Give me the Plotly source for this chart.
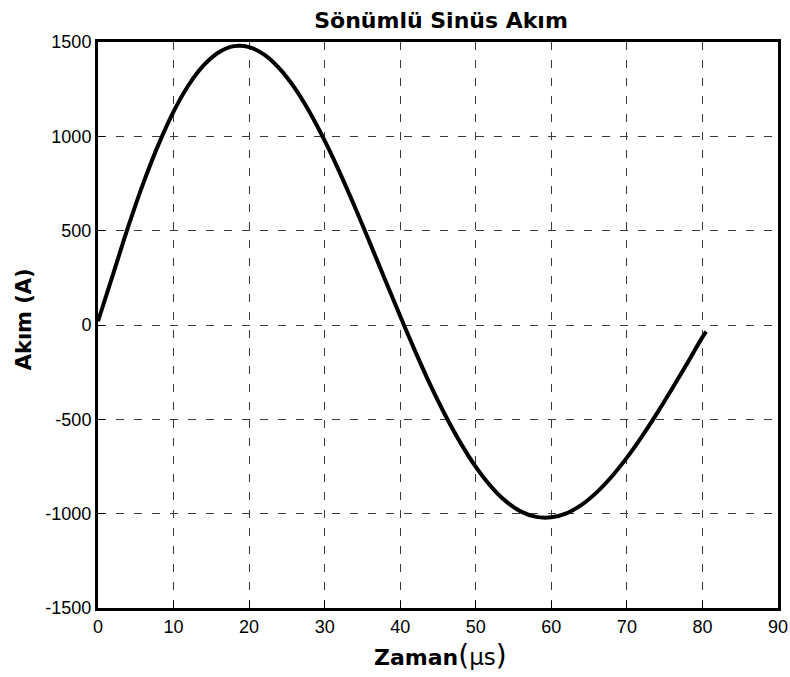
import plotly.graph_objects as go

# Values
time_us = [0, 2, 4, 6, 8, 10, 12, 14, 16, 18, 20, 22, 24, 26, 28, 30, 32, 34, 36, 38,
           40, 42, 44, 46, 48, 50, 52, 54, 56, 58, 60, 62, 64, 66, 68, 70, 72, 74, 76,
           78, 80, 80.5]
current_a = [20, 270, 521, 752, 956, 1131, 1272, 1377, 1446, 1478, 1473, 1433, 1360,
             1258, 1129, 977, 808, 625, 434, 240, 46, -141, -319, -481, -626, -752,
             -855, -935, -989, -1017, -1019, -998, -953, -887, -803, -703, -590, -467,
             -337, -202, -64, -35]

x_ticks = [0, 10, 20, 30, 40, 50, 60, 70, 80, 90]
y_ticks = [-1500, -1000, -500, 0, 500, 1000, 1500]
y_tick_text = ["-1500", "-1000", "-500", "0", "500", "1000", "1500"]

tick_font = "Liberation Sans, Arial, sans-serif"
title_font = "DejaVu Sans, Verdana, sans-serif"

fig = go.Figure()
fig.add_trace(go.Scatter(
    x=time_us, y=current_a, mode="lines",
    line=dict(color="black", width=4, shape="spline"),
    showlegend=False, hoverinfo="skip",
))

axis_common = dict(
    showline=True, linecolor="black", linewidth=3, mirror=True,
    showgrid=True, gridcolor="#3a3a3a", griddash="8px,10px", gridwidth=1,
    ticks="inside", ticklen=7, tickcolor="black", tickwidth=1,
    zeroline=False, automargin=False,
    tickfont=dict(family=tick_font, size=18, color="black"),
)

fig.update_xaxes(range=[0, 90], tickvals=x_ticks, **axis_common)
fig.update_yaxes(range=[-1500, 1500], tickvals=y_ticks, ticktext=y_tick_text,
                 **axis_common)

fig.add_annotation(
    text="<b>Akım (A)</b>", textangle=-90,
    xref="paper", yref="paper", x=(24 - 98) / 680, y=0.51,
    xanchor="center", yanchor="middle", showarrow=False,
    font=dict(family=title_font, size=21, color="black"),
)
fig.add_annotation(
    text="<b>Zaman</b><span style='font-size:28px'>(</span><span style='font-size:23px'>μs</span><span style='font-size:28px'>)</span>",
    xref="paper", yref="paper", x=(440 - 98) / 680, y=(608 - 655) / 566,
    xanchor="center", yanchor="middle", showarrow=False,
    font=dict(family=title_font, size=22, color="black"),
)

fig.update_layout(
    width=790, height=677,
    margin=dict(l=98, r=12, t=42, b=69, autoexpand=False),
    paper_bgcolor="white", plot_bgcolor="white",
    title=dict(text="<b>Sönümlü Sinüs Akım</b>", x=441 / 790, xanchor="center",
               y=1 - 20 / 677, yanchor="middle", automargin=False,
               font=dict(family=title_font, size=22, color="black")),
)

fig.write_html(
    "out.html",
    config={"displayModeBar": False},
    post_script="document.body.style.margin='0';document.body.style.overflow='hidden';",
)
